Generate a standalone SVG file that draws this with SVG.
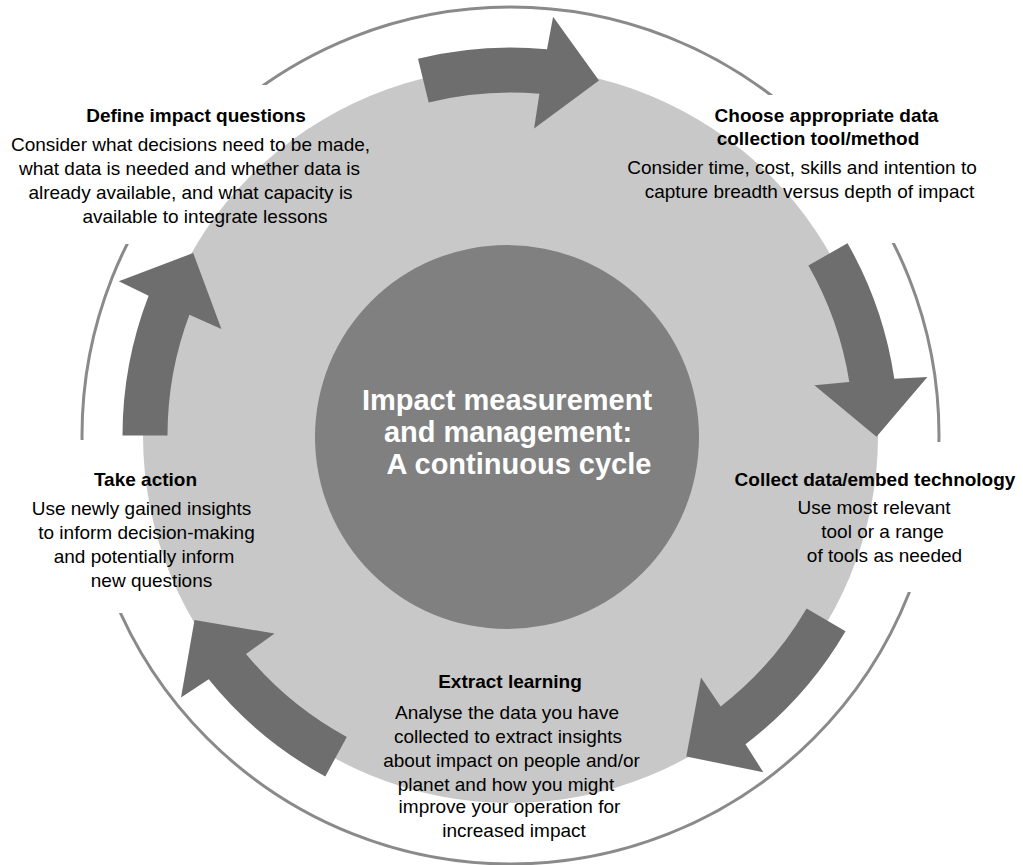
<svg xmlns="http://www.w3.org/2000/svg" width="1023" height="865" viewBox="0 0 1023 865">
<style>
.ring{fill:none;stroke:#8a8a8a;stroke-width:3}
.mask{fill:#ffffff}
.arrow{fill:#6e6e6e}
.h{font-family:"Liberation Sans",Arial,sans-serif;font-size:19px;font-weight:bold;fill:#000;text-anchor:middle}
.b{font-family:"Liberation Sans",Arial,sans-serif;font-size:19px;fill:#000;text-anchor:middle}
.c{font-family:"Liberation Sans",Arial,sans-serif;font-size:29px;font-weight:bold;fill:#ffffff;text-anchor:middle}
</style>
<rect width="1023" height="865" fill="#ffffff"/>
<g id="background">
<circle class="ring" cx="510.5" cy="435.5" r="428.5"/>
<rect class="mask" x="0" y="85" width="400" height="159"/>
<rect class="mask" x="610" y="95" width="413" height="148"/>
<rect class="mask" x="720" y="442" width="303" height="150"/>
<rect class="mask" x="20" y="440" width="250" height="173"/>
<circle cx="510.5" cy="435.5" r="367.5" fill="#c8c8c8"/>
</g>
<g id="center">
<circle cx="507" cy="437" r="192" fill="#808080"/>
<text class="c" x="507" y="410">Impact measurement</text>
<text class="c" x="508" y="442">and management:</text>
<text class="c" x="519" y="474">A continuous cycle</text>
</g>
<g id="connectors">
<path class="arrow" d="M418.0,58.7 A388,388 0 0 1 547.0,49.2 L553.1,16.7 L599.0,80.4 L534.1,128.4 L539.4,93.7 A343,343 0 0 0 428.7,102.4 Z"/>
<path class="arrow" d="M847.5,243.2 A388,388 0 0 1 894.3,378.7 L927.4,376.9 L876.5,436.8 L814.4,385.2 L849.3,382.0 A343,343 0 0 0 808.4,265.5 Z"/>
<path class="arrow" d="M845.5,631.2 A388,388 0 0 1 745.5,744.2 L763.3,772.2 L686.3,756.5 L701.0,677.6 L720.7,706.5 A343,343 0 0 0 806.6,608.5 Z"/>
<path class="arrow" d="M325.3,776.5 A388,388 0 0 1 208.7,679.3 L181.0,697.6 L194.5,620.1 L274.6,633.5 L246.0,653.9 A343,343 0 0 0 346.8,736.9 Z"/>
<path class="arrow" d="M122.5,435.5 A388,388 0 0 1 148.6,295.7 L118.8,281.2 L193.2,253.0 L221.4,329.1 L189.4,314.8 A343,343 0 0 0 167.5,435.5 Z"/>
</g>
<g id="define">
<text class="h" x="196" y="122">Define impact questions</text>
<text class="b" x="190.5" y="151">Consider what decisions need to be made,</text>
<text class="b" x="189.5" y="175">what data is needed and whether data is</text>
<text class="b" x="190.5" y="199">already available, and what capacity is</text>
<text class="b" x="205" y="223">available to integrate lessons</text>
</g>
<g id="choose">
<text class="h" x="826.5" y="122">Choose appropriate data</text>
<text class="h" x="818" y="145">collection tool/method</text>
<text class="b" x="802" y="174">Consider time, cost, skills and intention to</text>
<text class="b" x="809.5" y="198">capture breadth versus depth of impact</text>
</g>
<g id="collect">
<text class="h" x="875" y="486">Collect data/embed technology</text>
<text class="b" x="874" y="514">Use most relevant</text>
<text class="b" x="882.5" y="538">tool or a range</text>
<text class="b" x="884.5" y="562">of tools as needed</text>
</g>
<g id="extract">
<text class="h" x="510" y="688">Extract learning</text>
<text class="b" x="507" y="719">Analyse the data you have</text>
<text class="b" x="508" y="743">collected to extract insights</text>
<text class="b" x="511.5" y="767">about impact on people and/or</text>
<text class="b" x="506" y="791">planet and how you might</text>
<text class="b" x="509.5" y="813">improve your operation for</text>
<text class="b" x="514" y="837">increased impact</text>
</g>
<g id="action">
<text class="h" x="145.5" y="486">Take action</text>
<text class="b" x="141.5" y="515">Use newly gained insights</text>
<text class="b" x="146.5" y="539">to inform decision-making</text>
<text class="b" x="144" y="563">and potentially inform</text>
<text class="b" x="151.5" y="587">new questions</text>
</g>
</svg>
